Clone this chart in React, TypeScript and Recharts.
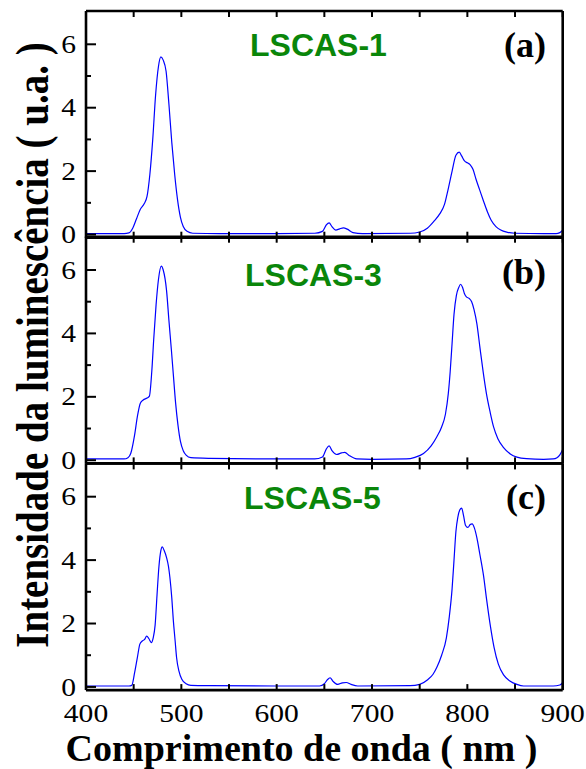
import React from 'react';
import { LineChart, Line, XAxis, YAxis } from 'recharts';

const xTicks = [400, 450, 500, 550, 600, 650, 700, 750, 800, 850, 900];
const xTickLabels = ['400', '500', '600', '700', '800', '900'];
const yTicks = [0, 1, 2, 3, 4, 5, 6];
const yTickLabels = ['0', '2', '4', '6'];

const sampleNames = ['LSCAS-1', 'LSCAS-3', 'LSCAS-5'];
const panelLetters = ['(a)', '(b)', '(c)'];

const lscas1Wavelength = [400, 420, 440, 445, 449, 453, 457, 461, 464, 467, 470, 473, 476, 478.5, 481, 484, 487, 490, 493, 496, 499, 502, 506, 512, 540, 600, 640, 648, 652, 655, 658, 662, 666, 670, 674, 680, 690, 740, 750, 758, 765, 771, 776, 780, 784, 788, 791.5, 794, 797, 800, 803, 806, 809, 813, 817, 821, 825, 830, 835, 842, 850, 880, 893, 897, 900];
const lscas1Intensity = [0.03, 0.03, 0.03, 0.05, 0.2, 0.5, 0.8, 0.97, 1.2, 1.9, 3.0, 4.4, 5.3, 5.6, 5.5, 5.15, 4.1, 2.9, 1.9, 1.1, 0.55, 0.25, 0.1, 0.04, 0.03, 0.03, 0.04, 0.1, 0.3, 0.37, 0.25, 0.14, 0.18, 0.21, 0.17, 0.06, 0.03, 0.04, 0.08, 0.2, 0.42, 0.65, 0.95, 1.45, 2.0, 2.5, 2.6, 2.48, 2.32, 2.26, 2.2, 2.05, 1.75, 1.4, 1.05, 0.72, 0.45, 0.25, 0.14, 0.07, 0.04, 0.03, 0.03, 0.06, 0.14];

const lscas3Wavelength = [400, 440, 444, 447, 451, 454, 457, 460, 464, 466.5, 469, 471, 473.5, 476, 479, 481, 484.5, 487, 489.5, 491.5, 494, 496.5, 499, 502, 505, 510, 530, 600, 640, 648, 652, 655, 658, 663, 668, 671.5, 676, 684, 700, 736, 745, 754, 762, 768, 773, 777, 780, 782, 784, 786, 788.5, 791, 793, 795, 797, 799, 802, 804.5, 807, 810, 813, 816.5, 820, 824, 827.5, 832, 838, 845, 852, 862, 880, 890, 894, 897, 900];
const lscas3Intensity = [0.04, 0.04, 0.08, 0.22, 0.8, 1.4, 1.8, 1.9, 1.96, 2.02, 2.8, 3.8, 4.9, 5.7, 6.12, 6.0, 5.35, 4.4, 3.5, 2.74, 1.8, 1.1, 0.6, 0.3, 0.16, 0.08, 0.06, 0.04, 0.04, 0.1, 0.35, 0.45, 0.3, 0.18, 0.23, 0.25, 0.15, 0.04, 0.03, 0.04, 0.09, 0.21, 0.45, 0.74, 1.05, 1.45, 2.1, 2.8, 3.7, 4.6, 5.2, 5.45, 5.55, 5.45, 5.25, 5.15, 5.1, 5.0, 4.75, 4.3, 3.6, 2.8, 2.1, 1.5, 1.05, 0.68, 0.4, 0.2, 0.1, 0.05, 0.03, 0.04, 0.08, 0.17, 0.34];

const lscas5Wavelength = [400, 445, 448, 451, 454, 456.5, 459, 461.5, 463.6, 466, 468.5, 470.5, 472.5, 474.5, 476.5, 478.5, 480, 482, 484.5, 486.5, 488, 490, 491.6, 493.5, 495, 497.5, 500.5, 505, 510, 530, 600, 645, 650, 653, 656, 659, 664, 669, 673, 678, 685, 740, 750, 758, 764, 768, 773, 778, 781, 784, 786, 788, 790, 792, 794, 796, 798, 800.5, 803, 805, 807.5, 810, 813, 817, 820, 824, 828, 832.5, 838, 845, 852, 859, 890, 897, 900];
const lscas5Intensity = [0.03, 0.03, 0.05, 0.45, 0.95, 1.35, 1.45, 1.5, 1.6, 1.52, 1.4, 1.55, 1.95, 2.9, 3.8, 4.3, 4.42, 4.3, 4.08, 3.8, 3.45, 2.8, 2.1, 1.45, 0.93, 0.5, 0.24, 0.1, 0.05, 0.04, 0.03, 0.03, 0.1, 0.22, 0.29, 0.18, 0.08, 0.13, 0.14, 0.08, 0.03, 0.04, 0.08, 0.22, 0.4, 0.62, 1.0, 1.55, 2.2, 3.1, 4.0, 4.9, 5.35, 5.58, 5.64, 5.4, 5.1, 5.03, 5.12, 5.14, 5.0, 4.7, 4.2, 3.5, 2.8, 1.95, 1.25, 0.72, 0.38, 0.18, 0.08, 0.03, 0.03, 0.06, 0.14];

const W = 586;
const H = 769;
const PLOT_LEFT = 86;
const PLOT_RIGHT = 562.7;
const PANEL_H = 226.7;
const panelTops = [11, 236.7, 463.4];
const nameX = [250, 245, 244];
const nameY = [56, 285.7, 509];
const letterY = [57, 283.5, 508.5];

const SERIF = '"Liberation Serif", "Times New Roman", serif';
const SANS = '"Liberation Sans", Arial, sans-serif';

const toData = (xs: number[], ys: number[]) => xs.map((x, i) => ({ x, y: ys[i] }));
const panelData = [
  toData(lscas1Wavelength, lscas1Intensity),
  toData(lscas3Wavelength, lscas3Intensity),
  toData(lscas5Wavelength, lscas5Intensity),
];

const TICK_FONT = 25.5;
const TICK_STRETCH = 1.16;

const LeftTick = (props: any) => {
  const { x, y, payload } = props;
  const label = String(payload.value);
  const major = yTickLabels.includes(label);
  return (
    <g>
      <line x1={x} y1={y} x2={x + (major ? 10 : 5)} y2={y} stroke="#000" strokeWidth={2} />
      {major && (
        <text
          transform={`translate(${x - 10},${y}) scale(${TICK_STRETCH},1)`}
          dy="0.34em"
          textAnchor="end"
          fontFamily={SERIF}
          fontSize={TICK_FONT}
          fill="#000"
        >
          {label}
        </text>
      )}
    </g>
  );
};

const RightTick = (props: any) => {
  const { x, y, payload } = props;
  const major = yTickLabels.includes(String(payload.value));
  return <line x1={x} y1={y} x2={x - (major ? 9 : 6)} y2={y} stroke="#000" strokeWidth={2} />;
};

const TopTick = (props: any) => {
  const { x, y } = props;
  return <line x1={x} y1={y} x2={x} y2={y + 6} stroke="#000" strokeWidth={2} />;
};

const makeBottomTick = (showLabels: boolean) => (props: any) => {
  const { x, y, payload } = props;
  const label = String(payload.value);
  const labeled = showLabels && xTickLabels.includes(label);
  return (
    <g>
      <line x1={x} y1={y} x2={x} y2={y - 6} stroke="#000" strokeWidth={2} />
      {labeled && (
        <text
          transform={`translate(${x},${y + 32}) scale(${TICK_STRETCH},1)`}
          textAnchor="middle"
          fontFamily={SERIF}
          fontSize={TICK_FONT}
          fill="#000"
        >
          {label}
        </text>
      )}
    </g>
  );
};

const axisLine = { stroke: '#000', strokeWidth: 2.6 };

function Panel({ index }: { index: number }) {
  const top = panelTops[index];
  const margin = { top: top - 1, right: W - PLOT_RIGHT - 1, bottom: H - top - PANEL_H - 1, left: 0 };
  return (
    <div style={{ position: 'absolute', left: 0, top: 0 }}>
      <LineChart width={W} height={H} data={panelData[index]} margin={margin}>
        <XAxis
          dataKey="x"
          type="number"
          domain={[400, 900]}
          ticks={xTicks}
          interval={0}
          height={1}
          tickSize={0}
          tickMargin={0}
          tickLine={false}
          axisLine={axisLine}
          tick={makeBottomTick(index === 2)}
        />
        <XAxis
          xAxisId="top"
          orientation="top"
          dataKey="x"
          type="number"
          domain={[400, 900]}
          ticks={xTicks}
          interval={0}
          height={1}
          tickSize={0}
          tickMargin={0}
          tickLine={false}
          axisLine={axisLine}
          tick={TopTick}
        />
        <YAxis
          type="number"
          domain={[-0.1, 7.05]}
          ticks={yTicks}
          interval={0}
          width={PLOT_LEFT}
          tickSize={0}
          tickMargin={0}
          tickLine={false}
          axisLine={axisLine}
          tick={LeftTick}
        />
        <YAxis
          yAxisId="right"
          orientation="right"
          type="number"
          domain={[-0.1, 7.05]}
          ticks={yTicks}
          interval={0}
          width={1}
          tickSize={0}
          tickMargin={0}
          tickLine={false}
          axisLine={axisLine}
          tick={RightTick}
        />
        <Line
          type="monotone"
          dataKey="y"
          stroke="#0000ff"
          strokeWidth={1.2}
          dot={false}
          activeDot={false}
          isAnimationActive={false}
        />
      </LineChart>
    </div>
  );
}

export default function App() {
  return (
    <div style={{ position: 'absolute', left: 0, top: 0, width: W, height: H, background: '#fff' }}>
      {[0, 1, 2].map((i) => (
        <Panel key={i} index={i} />
      ))}
      <svg width={W} height={H} style={{ position: 'absolute', left: 0, top: 0, pointerEvents: 'none' }}>
        {sampleNames.map((name, i) => (
          <text key={name} x={nameX[i]} y={nameY[i]} fontFamily={SANS} fontWeight="bold" fontSize={32} fill="#0a860a">
            {name}
          </text>
        ))}
        {panelLetters.map((l, i) => (
          <text key={l} x={546} y={letterY[i]} textAnchor="end" fontFamily={SERIF} fontWeight="bold" fontSize={36} fill="#000">
            {l}
          </text>
        ))}
        <text
          transform="translate(48,345) rotate(-90) scale(1,1.2)"
          textAnchor="middle"
          fontFamily={SERIF}
          fontWeight="bold"
          fontSize={39}
          fill="#000"
        >
          Intensidade da luminescência ( u.a. )
        </text>
        <text x={301.5} y={761} textAnchor="middle" fontFamily={SERIF} fontWeight="bold" fontSize={38} fill="#000">
          Comprimento de onda ( nm )
        </text>
      </svg>
    </div>
  );
}
